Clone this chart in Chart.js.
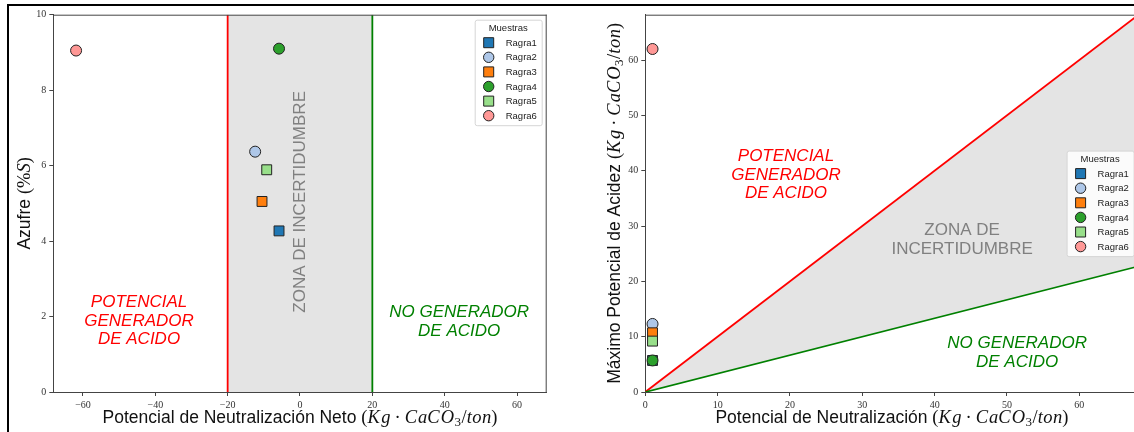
<!DOCTYPE html>
<html><head><meta charset="utf-8">
<script src="https://cdn.jsdelivr.net/npm/chart.js@4/dist/chart.umd.min.js"></script>
<style>
html,body{margin:0;padding:0;background:#fff;overflow:hidden;width:1134px;height:432px;}
#c1{position:absolute;left:0;top:0;}
#c2{position:absolute;left:570px;top:0;}
.fr{position:absolute;background:#000;}
</style></head><body>
<canvas id="c1" width="560" height="432"></canvas>
<canvas id="c2" width="600" height="432"></canvas>
<div class="fr" style="left:7px;top:4px;width:1127px;height:2px"></div>
<div class="fr" style="left:7px;top:4px;width:2px;height:428px"></div>
<script>
// ---- data ----
const samples = ['Ragra1','Ragra2','Ragra3','Ragra4','Ragra5','Ragra6'];
const sampleColors = ['#1f77b4','#aec7e8','#ff7f0e','#2ca02c','#98df8a','#ff9896'];
const sampleMarkers = ['rect','circle','rect','circle','rect','circle'];
const pnNeto = [-5.8,-12.4,-10.5,-5.8,-9.2,-61.9];       // Potencial de Neutralización Neto
const azufre = [4.27,6.37,5.05,9.1,5.89,9.05];           // Azufre %S
const pn = [1,1,1,1,1,1];                                // Potencial de Neutralización
const mpa = [5.7,12.3,10.7,5.7,9.2,62.0];                // Máximo Potencial de Acidez
const leftXTicks = [-60,-40,-20,0,20,40,60];
const leftYTicks = [0,2,4,6,8,10];
const rightXTicks = [0,10,20,30,40,50,60];
const rightYTicks = [0,10,20,30,40,50,60];
const zoneLimits = [-20, 20];        // left chart: red / green limits
const zoneTop = [10, 10];
const boundaryX = [0, 68.2];         // right chart boundary lines
const redBoundY = [0, 68.2];         // ratio 1
const greenBoundY = [0, 22.73];      // ratio 3

const SANS = '"Liberation Sans", Arial, sans-serif';
const SERIF = '"Liberation Serif", "Times New Roman", serif';
const GRAY = '#e4e4e4';
const fmt = v => v < 0 ? '\u2212' + (-v) : String(v);

function pointDatasets(xs, ys) {
  return samples.map((s, i) => ({
    type: 'scatter', label: s,
    data: [{x: xs[i], y: ys[i]}],
    backgroundColor: sampleColors[i], borderColor: '#222', borderWidth: 1,
    pointStyle: sampleMarkers[i],
    pointRadius: sampleMarkers[i] === 'rect' ? 7 : 5.5,
    pointHoverRadius: sampleMarkers[i] === 'rect' ? 7 : 5.5,
    order: 7 - i
  }));
}

function drawRich(ctx, segs, x, y) {
  let w = 0;
  segs.forEach(s => { ctx.font = s.f; w += ctx.measureText(s.t).width + (s.gap || 0); });
  let cx = x - w / 2;
  ctx.textAlign = 'left'; ctx.textBaseline = 'alphabetic';
  segs.forEach(s => { ctx.font = s.f; ctx.fillText(s.t, cx, y + (s.dy || 0)); cx += ctx.measureText(s.t).width + (s.gap || 0); });
}
function unitSegs() {
  const it = 'italic 18.5px ' + SERIF, up = '18.5px ' + SERIF;
  return [
    {t:'(', f:up}, {t:'K', f:it, gap:1.5}, {t:'g', f:it, gap:4}, {t:'\u00b7', f:up, gap:4}, {t:'C', f:it, gap:1}, {t:'a', f:it},
    {t:'C', f:it, gap:1}, {t:'O', f:it, gap:0.5},
    {t:'3', f:'13px ' + SERIF, dy:3, gap:0.5}, {t:'/', f:up}, {t:'t', f:it, gap:0.5}, {t:'o', f:it, gap:0.5}, {t:'n', f:it}, {t:')', f:up}
  ];
}

const decorPlugin = {
  id: 'decor',
  afterDatasetsDraw(chart) {
    const o = chart.options.plugins.decor; const ctx = chart.ctx; const ca = chart.chartArea;
    const xs = chart.scales.x, ys = chart.scales.y;
    ctx.save();
    o.notes.forEach(n => {
      const px = xs.getPixelForValue(n.x), py = ys.getPixelForValue(n.y);
      ctx.save();
      ctx.translate(px, py);
      if (n.rotate) ctx.rotate(-Math.PI / 2);
      ctx.font = n.font; ctx.fillStyle = n.color; ctx.textAlign = 'center'; ctx.textBaseline = 'middle';
      const lh = 18.5, h0 = -(n.lines.length - 1) * lh / 2;
      n.lines.forEach((l, k) => ctx.fillText(l, 0, h0 + k * lh));
      ctx.restore();
    });
    ctx.strokeStyle = '#444'; ctx.lineWidth = 1;
    ctx.beginPath();
    ctx.moveTo(ca.left, ca.top + 0.5); ctx.lineTo(ca.right, ca.top + 0.5);
    ctx.moveTo(ca.right - 0.5, ca.top); ctx.lineTo(ca.right - 0.5, ca.bottom);
    ctx.stroke();
    ctx.restore();
  },
  afterDraw(chart) {
    const o = chart.options.plugins.decor; const ctx = chart.ctx; const ca = chart.chartArea;
    ctx.save();
    ctx.fillStyle = '#111';
    drawRich(ctx, o.xTitle, (ca.left + ca.right) / 2, 422.5);
    ctx.save();
    ctx.translate(o.yTitleX, (ca.top + ca.bottom) / 2);
    ctx.rotate(-Math.PI / 2);
    drawRich(ctx, o.yTitle, 0, 0);
    ctx.restore();
    // legend
    const w = 67, h = 105.5;
    const x0 = ca.right - 5 - w;
    const y0 = o.legendPos === 'upper right' ? ca.top + 5 : (ca.top + ca.bottom) / 2 - h / 2;
    ctx.beginPath();
    if (ctx.roundRect) ctx.roundRect(x0 + 0.5, y0 + 0.5, w, h, 2); else ctx.rect(x0 + 0.5, y0 + 0.5, w, h);
    ctx.fillStyle = 'rgba(255,255,255,0.85)'; ctx.fill();
    ctx.strokeStyle = '#d6d6d6'; ctx.lineWidth = 1; ctx.stroke();
    ctx.fillStyle = '#222'; ctx.font = '9.5px ' + SANS; ctx.textAlign = 'center'; ctx.textBaseline = 'middle';
    ctx.fillText('Muestras', x0 + w / 2, y0 + 8.5);
    const pts = chart.data.datasets.filter(d => samples.includes(d.label));
    pts.forEach((d, i) => {
      const yy = y0 + 23 + i * 14.6, mx = x0 + 14;
      ctx.fillStyle = d.backgroundColor; ctx.strokeStyle = '#222'; ctx.lineWidth = 1;
      ctx.beginPath();
      if (d.pointStyle === 'rect') ctx.rect(mx - 5, yy - 5, 10, 10); else ctx.arc(mx, yy, 5.2, 0, Math.PI * 2);
      ctx.fill(); ctx.stroke();
      ctx.fillStyle = '#222'; ctx.textAlign = 'left'; ctx.font = '9.5px ' + SANS;
      ctx.fillText(d.label, x0 + 31, yy + 0.5);
    });
    ctx.restore();
  }
};

function scaleOpts(min, max, ticks, fit) {
  return {
    type: 'linear', min, max,
    afterBuildTicks: s => { s.ticks = ticks.map(v => ({value: v})); },
    afterFit: fit,
    grid: {drawOnChartArea: false, drawTicks: true, tickLength: 4, color: '#444', lineWidth: 1},
    border: {display: true, color: '#444', width: 1},
    ticks: {font: {family: SERIF, size: 10}, color: '#333', padding: 3, maxRotation: 0, autoSkip: false, callback: fmt}
  };
}

// ---- left chart ----
const leftDatasets = [
  {type:'line', label:'zona', data: zoneLimits.map((x, i) => ({x, y: zoneTop[i]})), fill: 'origin',
   backgroundColor: GRAY, borderWidth: 0, pointRadius: 0, order: 30},
  {type:'line', label:'limite rojo', data: [{x: zoneLimits[0], y: 0}, {x: zoneLimits[0], y: zoneTop[0]}],
   borderColor: '#ff0000', borderWidth: 1.8, pointRadius: 0, fill: false, order: 20},
  {type:'line', label:'limite verde', data: [{x: zoneLimits[1], y: 0}, {x: zoneLimits[1], y: zoneTop[1]}],
   borderColor: '#008000', borderWidth: 1.8, pointRadius: 0, fill: false, order: 20},
  ...pointDatasets(pnNeto, azufre)
];
new Chart(document.getElementById('c1'), {
  type: 'scatter',
  data: {datasets: leftDatasets},
  options: {
    responsive: false, animation: false, events: [],
    layout: {padding: {top: 14.7, right: 13.3, left: 0, bottom: 0}},
    plugins: {
      legend: {display: false}, tooltip: {enabled: false},
      decor: {
        legendPos: 'upper right', yTitleX: 30,
        xTitle: [{t:'Potencial de Neutralización Neto ', f:'17.5px ' + SANS}, ...unitSegs()],
        yTitle: [{t:'Azufre ', f:'17.5px ' + SANS}, {t:'(%', f:'18.5px ' + SERIF}, {t:'S', f:'italic 18.5px ' + SERIF}, {t:')', f:'18.5px ' + SERIF}],
        notes: [
          {lines:['POTENCIAL','GENERADOR','DE ACIDO'], x:-44.5, y:1.88, color:'#ff0000', font:'italic 17px ' + SANS},
          {lines:['NO GENERADOR','DE ACIDO'], x:44, y:1.86, color:'#008000', font:'italic 17px ' + SANS},
          {lines:['ZONA DE INCERTIDUMBRE'], x:0, y:5.04, color:'#808080', font:'17px ' + SANS, rotate:true}
        ]
      }
    },
    scales: {
      x: scaleOpts(-68.2, 68.2, leftXTicks, s => { s.height = 40; }),
      y: scaleOpts(0, 10, leftYTicks, s => { s.width = 53.3; })
    }
  },
  plugins: [decorPlugin]
});

// ---- right chart ----
const rightDatasets = [
  {type:'line', label:'limite rojo', data: boundaryX.map((x, i) => ({x, y: redBoundY[i]})),
   borderColor: '#ff0000', borderWidth: 1.8, pointRadius: 0, fill: '+1', backgroundColor: GRAY, order: 20},
  {type:'line', label:'limite verde', data: boundaryX.map((x, i) => ({x, y: greenBoundY[i]})),
   borderColor: '#008000', borderWidth: 1.8, pointRadius: 0, fill: false, order: 19},
  ...pointDatasets(pn, mpa)
];
new Chart(document.getElementById('c2'), {
  type: 'scatter',
  data: {datasets: rightDatasets},
  options: {
    responsive: false, animation: false, events: [],
    layout: {padding: {top: 14.7, right: 31.4, left: 0, bottom: 0}},
    plugins: {
      legend: {display: false}, tooltip: {enabled: false},
      decor: {
        legendPos: 'center right', yTitleX: 50,
        xTitle: [{t:'Potencial de Neutralización ', f:'17.5px ' + SANS}, ...unitSegs()],
        yTitle: [{t:'Máximo Potencial de Acidez ', f:'17.5px ' + SANS}, ...unitSegs()],
        notes: [
          {lines:['POTENCIAL','GENERADOR','DE ACIDO'], x:19.45, y:39.2, color:'#ff0000', font:'italic 17px ' + SANS},
          {lines:['ZONA DE','INCERTIDUMBRE'], x:43.8, y:27.5, color:'#808080', font:'17px ' + SANS},
          {lines:['NO GENERADOR','DE ACIDO'], x:51.4, y:7.08, color:'#008000', font:'italic 17px ' + SANS}
        ]
      }
    },
    scales: {
      x: scaleOpts(0, 68.2, rightXTicks, s => { s.height = 40; }),
      y: scaleOpts(0, 68.2, rightYTicks, s => { s.width = 75.3; })
    }
  },
  plugins: [decorPlugin]
});
</script>
</body></html>
